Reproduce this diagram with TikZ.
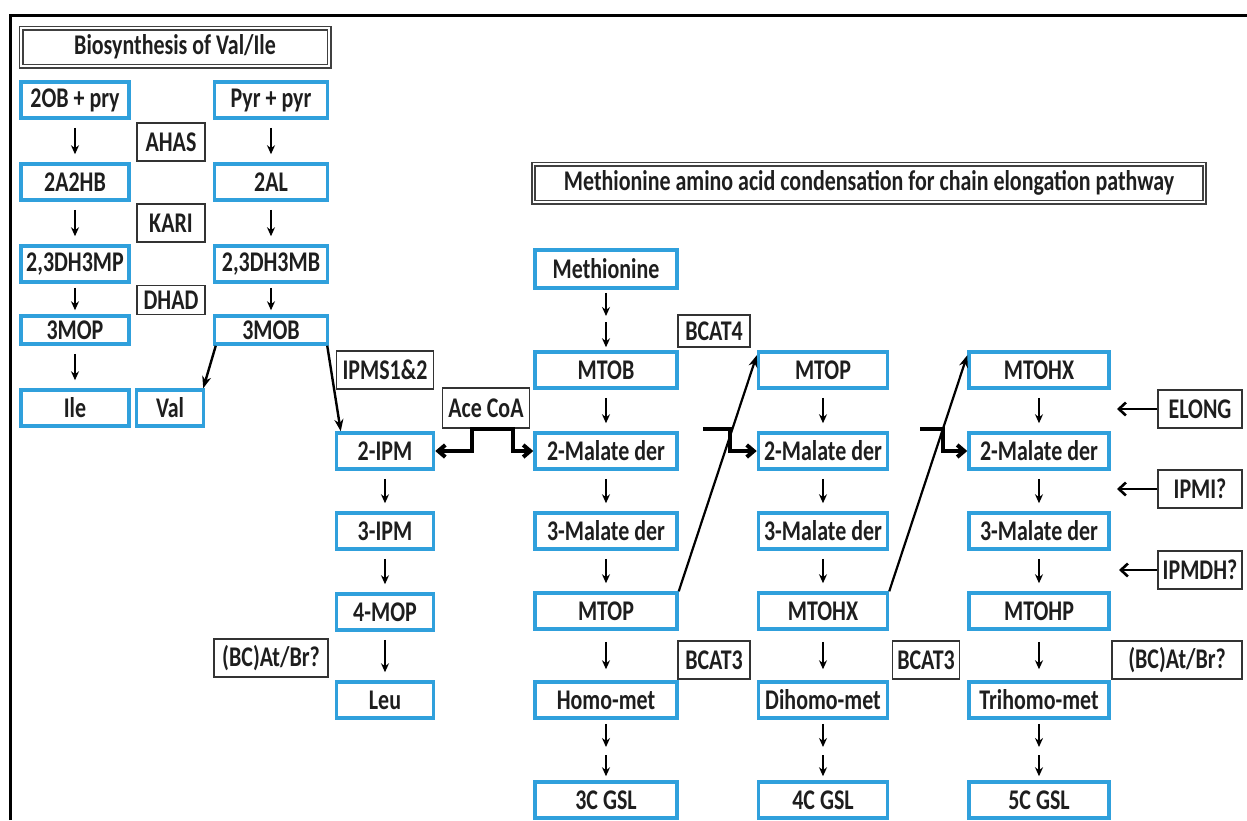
\documentclass[tikz,border=0pt]{standalone}
\usepackage{fontspec}
\setmainfont{Carlito}[FakeStretch=0.77]
\usetikzlibrary{arrows.meta,positioning}
\definecolor{molblue}{RGB}{48,160,220}
\definecolor{inkgray}{RGB}{30,30,30}
\newcommand\boxfont{\bfseries\fontsize{28.5}{30}\selectfont}

\begin{document}
\begin{tikzpicture}[x=1pt, y=-1pt,
  mol/.style={draw=molblue, line width=3.5pt, minimum height=36pt, inner sep=0pt, text=inkgray, font=\boxfont},
  enz/.style={draw=black!80, line width=1.6pt, minimum height=38pt, inner sep=2pt, text=inkgray, font=\boxfont},
  ttl/.style={draw=black!75, double, double distance=1.8pt, line width=1.6pt, minimum height=38pt, text=inkgray, font=\boxfont},
  rx/.style={-{Stealth[length=9pt,width=8pt]}, line width=2.6pt, shorten <=8pt, shorten >=8pt},
  fat/.style={-{Straight Barb[length=7pt,width=12pt]}, line width=4pt},
  >={Stealth[length=12pt,width=9pt]}]
\useasboundingbox (0,0) rectangle (1247,820);
\draw[line width=3pt] (10,820) -- (10,15) -- (1247,15);

% valine / isoleucine
\node[ttl, minimum width=308pt] (tval) at (175,47) {Biosynthesis of Val/Ile};
\node[mol, minimum width=108pt] (ob) at (75,100) {2OB + pry};
\node[mol, minimum width=108pt] (ahb) at (75,182) {2A2HB};
\node[mol, minimum width=108pt] (dmp) at (75,264) {2,3DH3MP};
\node[mol, minimum width=108pt, minimum height=28pt] (mop) at (75,330) {3MOP};
\node[mol, minimum width=108pt] (ile) at (75,408) {Ile};
\node[mol, minimum width=113pt] (pp) at (271,100) {Pyr + pyr};
\node[mol, minimum width=113pt] (al) at (271,182) {2AL};
\node[mol, minimum width=113pt] (dmb) at (271,264) {2,3DH3MB};
\node[mol, minimum width=113pt, minimum height=28pt] (mob) at (271,330) {3MOB};
\node[mol, minimum width=67pt] (val) at (170,408) {Val};
\node[enz, minimum width=68pt] (ahas) at (171,142) {AHAS};
\node[enz, minimum width=68pt] (kari) at (171,223) {KARI};
\node[enz, minimum width=68pt, minimum height=29pt] (dhad) at (171,300) {DHAD};
\draw[rx] (ob) -- (ahb);
\draw[rx] (ahb) -- (dmp);
\draw[rx, shorten <=4pt, shorten >=4pt] (dmp) -- (mop);
\draw[rx] (mop) -- (ile);
\draw[rx] (pp) -- (al);
\draw[rx] (al) -- (dmb);
\draw[rx, shorten <=4pt, shorten >=4pt] (dmb) -- (mob);
\draw[->, line width=2.4pt] ([xshift=3pt]mob.south west) -- ([xshift=-2pt]val.north east);

% leucine
\node[enz, minimum width=97pt] (ipms) at (385,370) {IPMS1\&2};
\node[mol, minimum width=97pt] (ipm) at (385,451) {2-IPM};
\node[mol, minimum width=97pt] (ipmb) at (385,531) {3-IPM};
\node[mol, minimum width=97pt] (mopf) at (385,612) {4-MOP};
\node[mol, minimum width=97pt] (leu) at (385,700) {Leu};
\node[enz, minimum width=114pt] (bcl) at (271,658) {(BC)At/Br?};
\draw[->, line width=2.4pt] ([xshift=-2pt]mob.south east) -- ([xshift=6pt]ipm.north west);
\draw[rx] (ipm) -- (ipmb);
\draw[rx] (ipmb) -- (mopf);
\draw[rx] (mopf) -- (leu);
\node[enz, minimum width=87pt, minimum height=40pt] (ace) at (486,408) {Ace CoA};

% methionine chain elongation
\node[ttl, minimum width=671pt] (tmet) at (869,183) {Methionine amino acid condensation for chain elongation pathway};
\node[mol, minimum width=142pt, minimum height=38pt] (met) at (606,269) {Methionine};
\node[mol, minimum width=142pt] (mtob) at (606,370) {MTOB};
\node[mol, minimum width=142pt] (maa) at (606,451) {2-Malate der};
\node[mol, minimum width=142pt] (mba) at (606,531) {3-Malate der};
\node[mol, minimum width=142pt] (mtopa) at (606,611) {MTOP};
\node[mol, minimum width=142pt] (homo) at (606,700) {Homo-met};
\node[mol, minimum width=142pt] (gslc) at (606,800) {3C GSL};
\node[mol, minimum width=129pt] (mtopb) at (823,370) {MTOP};
\node[mol, minimum width=129pt] (mab) at (823,451) {2-Malate der};
\node[mol, minimum width=129pt] (mbb) at (823,531) {3-Malate der};
\node[mol, minimum width=129pt] (mtohxb) at (823,611) {MTOHX};
\node[mol, minimum width=129pt] (dihomo) at (823,700) {Dihomo-met};
\node[mol, minimum width=129pt] (gsld) at (823,800) {4C GSL};
\node[mol, minimum width=140pt] (mtohxc) at (1039,370) {MTOHX};
\node[mol, minimum width=140pt] (mac) at (1039,451) {2-Malate der};
\node[mol, minimum width=140pt] (mbc) at (1039,531) {3-Malate der};
\node[mol, minimum width=140pt] (mtohp) at (1039,611) {MTOHP};
\node[mol, minimum width=140pt] (trihomo) at (1039,700) {Trihomo-met};
\node[mol, minimum width=140pt] (gsle) at (1039,800) {5C GSL};
\node[enz, minimum width=72pt, minimum height=32pt] (bcatf) at (714,331) {BCAT4};
\node[enz, minimum width=72pt] (bcata) at (714,660) {BCAT3};
\node[enz, minimum width=67pt] (bcatb) at (926,660) {BCAT3};
\node[enz, minimum width=130pt] (bcr) at (1177,660) {(BC)At/Br?};
\node[enz, minimum width=84pt] (elong) at (1200,409) {ELONG};
\node[enz, minimum width=84pt] (ipmi) at (1200,489) {IPMI?};
\node[enz, minimum width=84pt] (ipmdh) at (1200,570) {IPMDH?};

\coordinate (ma) at (606,319);
\coordinate (mh) at (606,751);
\coordinate (md) at (823,751);
\coordinate (mt) at (1039,751);
\draw[rx, shorten <=3pt, shorten >=3pt] (met) -- (ma);
\draw[rx, shorten <=3pt, shorten >=3pt] (ma) -- (mtob);
\draw[rx] (mtob) -- (maa);
\draw[rx] (maa) -- (mba);
\draw[rx] (mba) -- (mtopa);
\draw[rx, shorten <=11pt, shorten >=11pt] (mtopa) -- (homo);
\draw[rx, shorten <=4pt, shorten >=4pt] (homo) -- (mh);
\draw[rx, shorten <=4pt, shorten >=4pt] (mh) -- (gslc);
\draw[rx] (mtopb) -- (mab);
\draw[rx] (mab) -- (mbb);
\draw[rx] (mbb) -- (mtohxb);
\draw[rx, shorten <=11pt, shorten >=11pt] (mtohxb) -- (dihomo);
\draw[rx, shorten <=4pt, shorten >=4pt] (dihomo) -- (md);
\draw[rx, shorten <=4pt, shorten >=4pt] (md) -- (gsld);
\draw[rx] (mtohxc) -- (mac);
\draw[rx] (mac) -- (mbc);
\draw[rx] (mbc) -- (mtohp);
\draw[rx, shorten <=11pt, shorten >=11pt] (mtohp) -- (trihomo);
\draw[rx, shorten <=4pt, shorten >=4pt] (trihomo) -- (mt);
\draw[rx, shorten <=4pt, shorten >=4pt] (mt) -- (gsle);

% next round of the cycle
\draw[->, line width=2.2pt] (mtopa.north east) -- ([yshift=-5pt]mtopb.north west);
\draw[->, line width=2.2pt] (mtohxb.north east) -- ([yshift=-5pt]mtohxc.north west);
\draw[fat] ([xshift=-14pt]ace.south) |- (ipm.east);
\draw[fat] ([xshift=-16pt]ace.south) -- ([xshift=27pt]ace.south) |- (maa.west);
\coordinate (ka) at (703,429);
\coordinate (kb) at (730,429);
\coordinate (kc) at (920,429);
\coordinate (kd) at (943,429);
\draw[fat] (ka) -- (kb) |- (mab.west);
\draw[fat] (kc) -- (kd) |- (mac.west);

% enzymes of the last round
\coordinate (ea) at (1117,409);
\coordinate (eb) at (1117,489);
\coordinate (ec) at (1119,570);
\draw[-{Straight Barb[length=7pt,width=13pt]}, line width=2.6pt] (elong) -- (ea);
\draw[-{Straight Barb[length=7pt,width=13pt]}, line width=2.6pt] (ipmi) -- (eb);
\draw[-{Straight Barb[length=7pt,width=13pt]}, line width=2.6pt] (ipmdh) -- (ec);
\end{tikzpicture}
\end{document}
